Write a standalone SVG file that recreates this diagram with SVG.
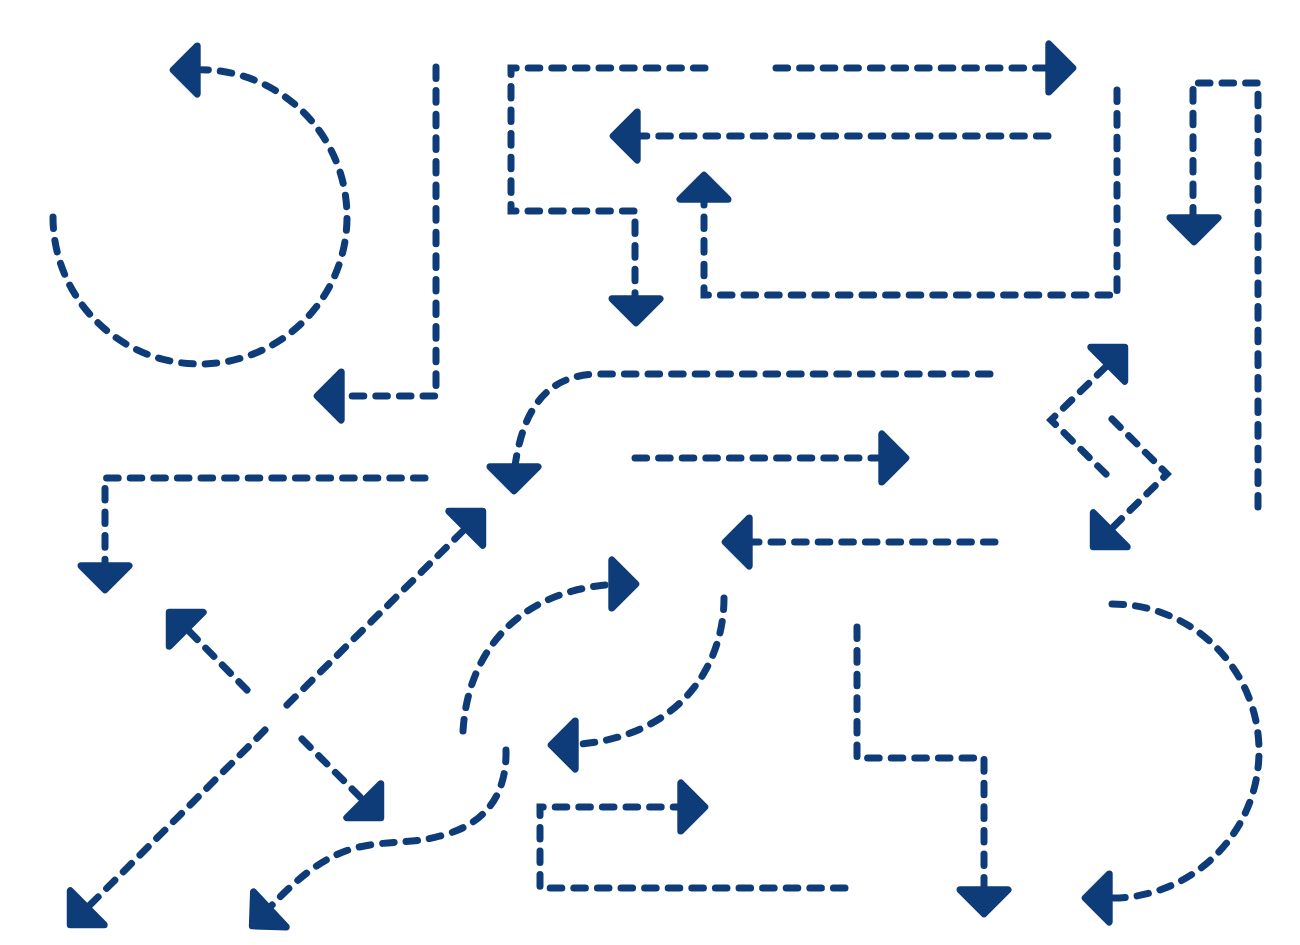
<svg xmlns="http://www.w3.org/2000/svg" width="1300" height="945" viewBox="0 0 1300 945">
<style>
.l{fill:none;stroke:#0e3c78;stroke-width:7;stroke-linecap:round;stroke-linejoin:miter;stroke-dasharray:11.6 12}
.h{fill:#0e3c78;stroke:#0e3c78;stroke-width:7;stroke-linejoin:round}
</style>
<defs><polygon id="head" class="h" points="-3.2,0 -27.2,-24 -27.2,24"/></defs>
<rect width="1300" height="945" fill="#fff"/>
<g id="connectors">
<path class="l" d="M53 217A147 147 0 0 0 347 217A147 147 0 0 0 190 70"/>
<path class="l" d="M436 67V396H335"/>
<path class="l" d="M705 68H511V211H635V305"/>
<path class="l" d="M776 68H1055"/>
<path class="l" d="M1048 136H630"/>
<path class="l" d="M1117 90V295H704V190"/>
<path class="l" d="M1258 507V83H1193V225"/>
<path class="l" d="M990 374H600C552 374 522 402 514 474"/>
<path class="l" d="M635 458H890"/>
<path class="l" d="M995 542H742"/>
<path class="l" d="M1106 474L1051 420L1115 358"/>
<path class="l" d="M1112 419L1167 474L1103 537"/>
<path class="l" d="M425 478H105V575"/>
<path class="l" d="M287 705L473 521"/>
<path class="l" d="M265 730L80 915"/>
<path class="l" d="M247 690L180 622"/>
<path class="l" d="M302 739L370 807"/>
<path class="l" d="M463 731C468 650 520 588 620 584"/>
<path class="l" d="M724 598C724 665 680 740 568 745"/>
<path class="l" d="M506 750C507 795 485 825 440 836C415 843 395 841 370 845C335 850 305 868 262 916"/>
<path class="l" d="M845 888H540V807H690"/>
<path class="l" d="M857 627V758H984V898"/>
<path class="l" d="M1112 604A147 147 0 0 1 1112 898H1102"/>
</g>
<g id="arrowheads">
<g id="a1"><use href="#head" transform="translate(170 70) rotate(180)"/></g>
<g id="a2"><use href="#head" transform="translate(314 396) rotate(180)"/></g>
<g id="a3"><use href="#head" transform="translate(636 326) rotate(90)"/></g>
<g id="a4"><use href="#head" transform="translate(1076 68)"/></g>
<g id="a5"><use href="#head" transform="translate(610 136) rotate(180)"/></g>
<g id="a6"><use href="#head" transform="translate(704 172) rotate(-90)"/></g>
<g id="a7"><use href="#head" transform="translate(1194 245) rotate(90)"/></g>
<g id="a8"><use href="#head" transform="translate(514 494) rotate(90)"/></g>
<g id="a9"><use href="#head" transform="translate(909 458)"/></g>
<g id="a10"><use href="#head" transform="translate(722 542) rotate(180)"/></g>
<g id="a11"><use href="#head" transform="translate(1127 345) rotate(-45)"/></g>
<g id="a12"><use href="#head" transform="translate(1091 549) rotate(135)"/></g>
<g id="a13"><use href="#head" transform="translate(105 593) rotate(90)"/></g>
<g id="a14"><use href="#head" transform="translate(485 509) rotate(-45)"/></g>
<g id="a15"><use href="#head" transform="translate(68 927) rotate(135)"/></g>
<g id="a16"><use href="#head" transform="translate(167 610) rotate(-135)"/></g>
<g id="a17"><use href="#head" transform="translate(383 820) rotate(45)"/></g>
<g id="a18"><use href="#head" transform="translate(639 584)"/></g>
<g id="a19"><use href="#head" transform="translate(548 745) rotate(180)"/></g>
<g id="a20"><use href="#head" transform="translate(250 928) rotate(137)"/></g>
<g id="a21"><use href="#head" transform="translate(708 807)"/></g>
<g id="a22"><use href="#head" transform="translate(984 917) rotate(90)"/></g>
<g id="a23"><use href="#head" transform="translate(1082 898) rotate(180)"/></g>
</g>
</svg>
